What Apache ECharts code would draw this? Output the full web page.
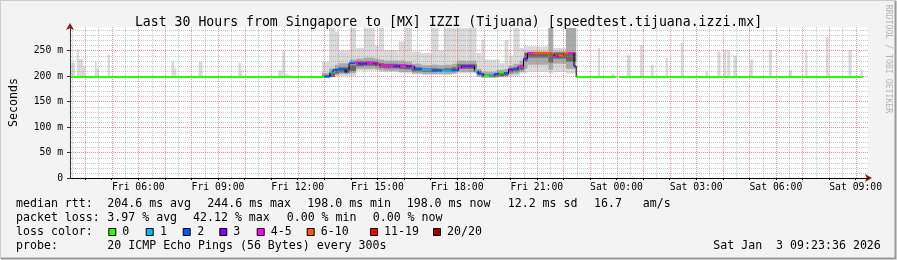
<!DOCTYPE html>
<html><head><meta charset="utf-8">
<script src="https://cdn.jsdelivr.net/npm/echarts@6/dist/echarts.min.js"></script>
<style>html,body{margin:0;padding:0;background:#f3f3f3}#c{width:897px;height:260px}</style>
</head><body><div id="c"></div>
<script>
// ===== DATA (time = minutes since Fri 00:00, values in ms) =====
const startMin = 208, endMin = 2008;
const tickMinutes = [360, 540, 720, 900, 1080, 1260, 1440, 1620, 1800, 1980];
const tickLabels = ['Fri 06:00','Fri 09:00','Fri 12:00','Fri 15:00','Fri 18:00','Fri 21:00','Sat 00:00','Sat 03:00','Sat 06:00','Sat 09:00'];
const yTickValues = [0, 50, 100, 150, 200, 250];
const yTickLabels = ['0', '50 m', '100 m', '150 m', '200 m', '250 m'];
const lossLabels = ['0','1','2','3','4-5','6-10','11-19','20/20'];
const lossColors = ['#26ff00','#00b8ff','#0059ff','#7e00ff','#ff00ff','#ff5500','#ff0000','#a10000'];

// median rtt: step segments (start minute, value ms, loss class index); null = no data
const medStart = [208, 781, 793, 800, 809, 827, 831, 836, 849, 858, 876, 892, 901, 906, 910, 937, 951, 966, 978, 984, 1000, 1023, 1045, 1068, 1083, 1090, 1119, 1128, 1140, 1153, 1164, 1173, 1187, 1196, 1207, 1218, 1230, 1239, 1252, 1293, 1299, 1308, 1320, 1331, 1344, 1349, 1440, 1446];
const medValue = [198, 199, 207, 212, 213, 206, 213, 225, 226, 224, 226, 224, 224, 220, 220, 219, 221, 219, 219, 214, 212, 211, 210, 211, 216, 219, 209, 204, 200, 201, 204, 207, 205, 213, 214, 219, 234, 245, 245, 243, 238, 241, 244, 245, 219, 198, null, 198];
const medLoss  = [0, 2, 1, 2, 2, 1, 2, 2, 4, 3, 4, 3, 5, 4, 4, 3, 4, 3, 4, 2, 1, 2, 1, 2, 4, 3, 1, 2, 0, 1, 2, 0, 2, 3, 2, 4, 3, 4, 5, 5, 4, 5, 5, 4, 3, 0, 0, 0];
const medEndMin = 1996;

// smoke: isolated high pings during quiet periods (from 198 ms up to top)
const spikeStart = [208, 221, 226, 235, 262, 266, 291, 435, 441, 496, 586, 592, 676, 685, 692, 698, 1398, 1428, 1463, 1493, 1517, 1551, 1585, 1641, 1668, 1682, 1690, 1704, 1741, 1784, 1829, 1866, 1913, 1964, 1991];
const spikeEnd   = [217, 226, 235, 240, 266, 271, 296, 441, 446, 505, 592, 595, 685, 692, 698, 707, 1403, 1435, 1471, 1501, 1524, 1556, 1591, 1647, 1675, 1688, 1697, 1712, 1748, 1791, 1836, 1871, 1919, 1971, 1996];
const spikeTop   = [226, 252, 233, 220, 228, 215, 242, 228, 215, 228, 226, 213, 211, 248, 204, 202, 255, 204, 240, 261, 222, 235, 265, 209, 248, 251, 250, 240, 232, 251, 212, 251, 277, 251, 213];

// smoke during the disturbed period: segment edges and layered ranges
const smkEdges = [775, 791, 804, 813, 838, 852, 870, 894, 903, 915, 948, 962, 978, 1000, 1023, 1038, 1050, 1068, 1079, 1101, 1124, 1135, 1142, 1169, 1176, 1187, 1196, 1207, 1221, 1232, 1239, 1286, 1297, 1326, 1349];
const outerLo = [198,197,199,200,200,210,210,210,208,208,206,205,203,202,202,202,202,203,205,205,198,196,196,197,197,198,200,200,205,205,208,205,208,205];
const outerHi = [228,294,287,250,294,255,294,260,294,251,268,294,248,245,294,250,294,294,294,294,245,271,232,232,225,271,240,294,255,260,258,294,255,294];
const midLo   = [197,198,202,204,206,214,214,213,211,210,208,208,205,204,204,204,204,205,208,208,199,197,197,198,198,199,203,204,208,214,222,212,224,214];
const midHi   = [206,215,222,225,232,234,236,234,232,230,230,228,224,221,222,221,222,224,230,230,214,208,208,212,212,214,220,224,230,246,248,294,248,294];
const coreLo  = [197,198,205,207,210,219,220,219,216,215,214,213,209,208,208,208,208,210,214,214,203,198,198,199,200,201,207,209,212,228,236,226,234,228];
const coreHi  = [201,206,214,217,221,229,229,228,225,224,223,222,217,215,215,214,215,217,223,223,210,203,203,206,207,208,214,217,222,246,246,246,246,246];

// ===== BUILD =====
const FONT = 'DejaVu Sans Mono';
function rects(lo, hi) {
  const out = [];
  for (let i = 0; i < lo.length; i++) out.push([smkEdges[i], smkEdges[i + 1], lo[i], hi[i]]);
  return out;
}
const spikeData = spikeStart.map((s, i) => [s, spikeEnd[i], 198, spikeTop[i]]);
const medData = medStart.map((s, i) => {
  const e = i + 1 < medStart.length ? medStart[i + 1] : medEndMin;
  const prev = i > 0 && medValue[i - 1] != null ? medValue[i - 1] : -1;
  return [s, e, medValue[i] == null ? -1 : medValue[i], medLoss[i], prev];
}).filter(d => d[2] >= 0);

function rectRender(color) {
  return function (params, api) {
    const a = api.coord([api.value(0), api.value(3)]);
    const b = api.coord([api.value(1), api.value(2)]);
    return { type: 'rect', shape: { x: a[0], y: a[1], width: b[0] - a[0], height: b[1] - a[1] }, style: { fill: color } };
  };
}
function smokeSeries(data, color, z) {
  return { type: 'custom', xAxisIndex: 0, yAxisIndex: 0, z: z, clip: true, silent: true,
    renderItem: rectRender(color), encode: { x: [0, 1], y: [2, 3] }, data: data };
}

// grid line positions
const minorX = [], majorX = [];
for (let m = 210; m < endMin; m += 30) (m % 60 === 0 ? majorX : minorX).push(m);
const minorY = [], majorY = [];
for (let v = 10; v <= 290; v += 10) (v % 50 === 0 ? majorY : minorY).push(v);

function gridLineSeries(xs, ys, color, z) {
  const data = xs.map(x => [0, x]).concat(ys.map(y => [1, y]));
  return { type: 'custom', xAxisIndex: 0, yAxisIndex: 0, z: z, silent: true, data: data,
    encode: { x: 1, y: 1 },
    renderItem: function (params, api) {
      const cs = params.coordSys;
      const kind = api.value(0), v = api.value(1);
      if (kind === 0) {
        const x = Math.round(api.coord([v, 100])[0]) + 0.5;
        return { type: 'line', shape: { x1: x, y1: cs.y, x2: x, y2: cs.y + cs.height }, style: { stroke: color, lineWidth: 1, lineDash: [1, 1] } };
      }
      const y = Math.round(api.coord([startMin, v])[1]) + 0.5;
      return { type: 'line', shape: { x1: cs.x, y1: y, x2: cs.x + cs.width, y2: y }, style: { stroke: color, lineWidth: 1, lineDash: [1, 1] } };
    } };
}

const chart = echarts.init(document.getElementById('c'), null, { renderer: 'canvas' });

const legendLines = [
  { y: 204, parts: [[16, 'median rtt:'], [107.3, '204.6 ms avg'], [207.3, '244.6 ms max'], [307.3, '198.0 ms min'], [406.7, '198.0 ms now'], [507.7, '12.2 ms sd'], [594, '16.7'], [642.7, 'am/s']] },
  { y: 218, parts: [[16, 'packet loss:'], [107.3, '3.97 % avg'], [193, '42.12 % max'], [286.7, '0.00 % min'], [372.7, '0.00 % now']] },
  { y: 232, parts: [[16, 'loss color:']] },
  { y: 246, parts: [[16, 'probe:'], [107.3, '20 ICMP Echo Pings (56 Bytes) every 300s'], [713.3, 'Sat Jan  3 09:23:36 2026']] }
];
const boxX = [108.3, 145.7, 182.7, 219.3, 256.7, 306.7, 370, 433];
const boxLabelX = [122.3, 160, 197.3, 233.3, 270.7, 320.7, 384, 447];

const graphics = [];
legendLines.forEach(l => l.parts.forEach(p => graphics.push({ type: 'text', x: p[0], y: l.y,
  style: { text: p[1], font: '11.6px "' + FONT + '"', fill: '#000', textVerticalAlign: 'middle' } })));
lossLabels.forEach((lab, i) => {
  graphics.push({ type: 'rect', shape: { x: boxX[i] + 0.5, y: 228.5, width: 7, height: 7 }, style: { fill: lossColors[i], stroke: '#000', lineWidth: 1 } });
  graphics.push({ type: 'text', x: boxLabelX[i], y: 232, style: { text: lab, font: '11.6px "' + FONT + '"', fill: '#000', textVerticalAlign: 'middle' } });
});
graphics.push({ type: 'text', x: 888, y: 59, rotation: -Math.PI / 2,
  style: { text: 'RRDTOOL / TOBI OETIKER', font: '8.2px "' + FONT + '"', fill: '#b4b4b4', textAlign: 'center', textVerticalAlign: 'middle' } });
graphics.push({ type: 'polyline', shape: { points: [[0.5, 259], [0.5, 0.5], [896, 0.5]] }, style: { stroke: '#cbcbcb', lineWidth: 1, fill: null } });
graphics.push({ type: 'polyline', shape: { points: [[1, 258.5], [895.5, 258.5], [895.5, 1]] }, style: { stroke: '#999999', lineWidth: 2, fill: null } });

const axisFont = { fontFamily: FONT, fontSize: 9.75, color: '#000' };
const ARROW = '#7f1f1f';

chart.setOption({
  animation: false,
  backgroundColor: '#f3f3f3',
  title: { text: 'Last 30 Hours from Singapore to [MX] IZZI (Tijuana) [speedtest.tijuana.izzi.mx]', left: 'center', top: 11,
    textStyle: { fontFamily: FONT, fontSize: 13.2, fontWeight: 'normal', color: '#000' } },
  grid: { left: 68, right: 29, top: 27, bottom: 82, show: true, backgroundColor: '#ffffff', borderWidth: 0 },
  xAxis: [
    { type: 'value', min: startMin, max: endMin, position: 'bottom', z: 6,
      axisLine: { show: true, lineStyle: { color: '#000', width: 1 } },
      axisTick: { show: true, customValues: majorX, length: 2, lineStyle: { color: '#000' } },
      axisLabel: Object.assign({ customValues: tickMinutes, margin: 4, formatter: v => { const i = tickMinutes.indexOf(v); return i >= 0 ? tickLabels[i] : ''; } }, axisFont),
      splitLine: { show: false } },
    { type: 'value', min: startMin, max: endMin, position: 'bottom', z: 5,
      axisLine: { show: true, lineStyle: { color: ARROW, width: 1 }, symbol: ['none', 'arrow'], symbolSize: [6, 7], symbolOffset: [0, 4] },
      axisTick: { show: false }, axisLabel: { show: false }, splitLine: { show: false } }
  ],
  yAxis: [
    { type: 'value', min: 0, max: 296, interval: 50, position: 'left', offset: 1, z: 6,
      axisLine: { show: true, lineStyle: { color: '#333', width: 1 } },
      axisTick: { show: true, customValues: yTickValues, length: 3, lineStyle: { color: '#333' } },
      axisLabel: Object.assign({ customValues: yTickValues, margin: 7, formatter: v => { const i = yTickValues.indexOf(v); return i >= 0 ? yTickLabels[i] : ''; } }, axisFont),
      splitLine: { show: false },
      name: 'Seconds', nameLocation: 'middle', nameGap: 50, nameRotate: 90,
      nameTextStyle: { fontFamily: FONT, fontSize: 11.6, color: '#000' } },
    { type: 'value', min: 0, max: 296, interval: 50, position: 'left', offset: 1, z: 5,
      axisLine: { show: true, lineStyle: { color: ARROW, width: 1 }, symbol: ['none', 'arrow'], symbolSize: [6, 7], symbolOffset: [0, 4] },
      axisTick: { show: false }, axisLabel: { show: false }, splitLine: { show: false } }
  ],
  series: [
    smokeSeries(spikeData, '#d9d9d9', 1),
    smokeSeries(rects(outerLo, outerHi), '#d9d9d9', 1),
    smokeSeries(rects(midLo, midHi), '#aaaaaa', 1),
    smokeSeries(rects(coreLo, coreHi), '#666666', 1),
    gridLineSeries(minorX, minorY, 'rgba(143,143,143,0.5)', 2),
    gridLineSeries(majorX, majorY, 'rgba(232,80,80,0.6)', 3),
    { type: 'custom', xAxisIndex: 0, yAxisIndex: 0, z: 5, clip: true, silent: true,
      encode: { x: [0, 1], y: 2 }, data: medData,
      renderItem: function (params, api) {
        const t0 = api.value(0), t1 = api.value(1), v = api.value(2), l = api.value(3), pv = api.value(4);
        const a = api.coord([t0, v]), b = api.coord([t1, v]);
        const ch = [];
        if (pv >= 0 && pv !== v) {
          const c = api.coord([t0, pv]);
          ch.push({ type: 'line', shape: { x1: a[0], y1: c[1], x2: a[0], y2: a[1] }, style: { stroke: '#000', lineWidth: 1 } });
        }
        ch.push({ type: 'line', shape: { x1: a[0], y1: a[1], x2: b[0], y2: b[1] }, style: { stroke: lossColors[l], lineWidth: 2 } });
        return { type: 'group', children: ch };
      } }
  ],
  graphic: graphics
});
</script></body></html>
